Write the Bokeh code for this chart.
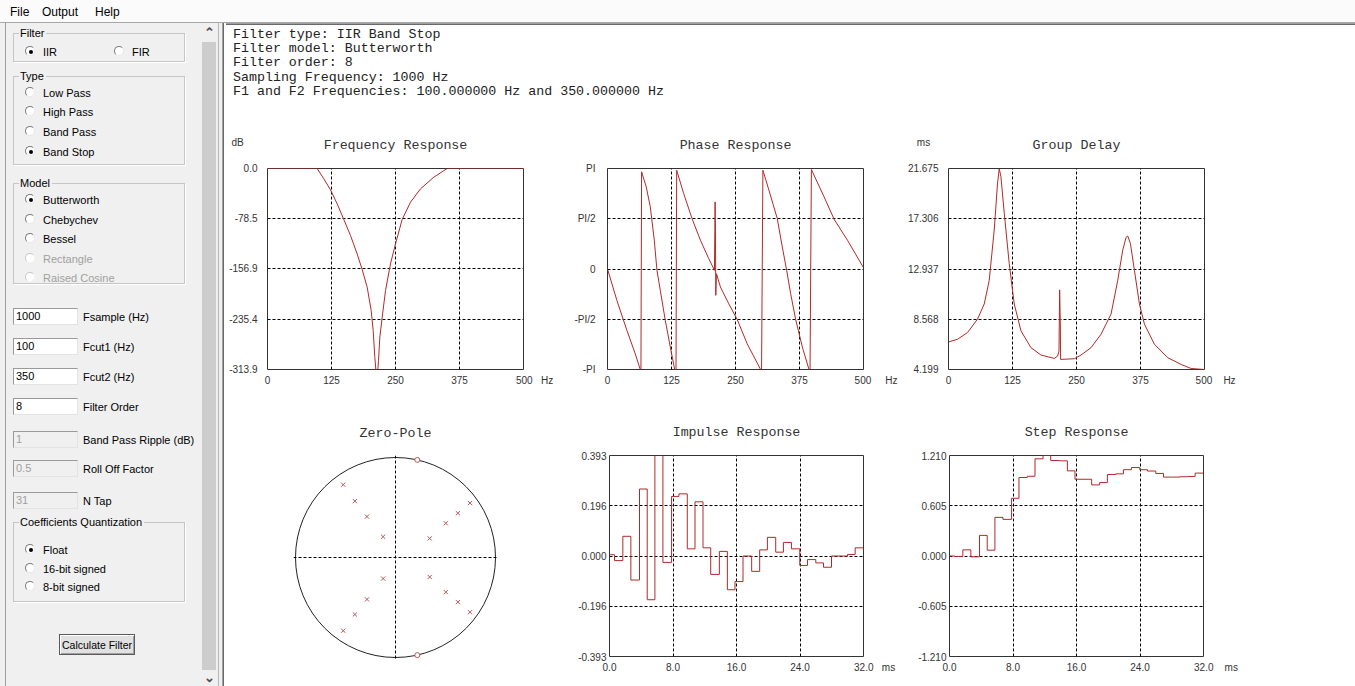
import numpy as np
from bokeh.plotting import figure
from bokeh.models import Range1d, FixedTicker, Span, Div
from bokeh.layouts import row, column
from bokeh.embed import file_html
from bokeh.resources import INLINE

# ---------------- data ----------------
freq_hz = [0, 97.0, 110.0, 123.0, 136.1, 149.1, 162.1, 175.1, 184.9, 194.7,
           202.5, 206.4, 209.6, 211.6, 213.0, 215.5, 216.8, 219.4, 224.0, 230.5,
           240.2, 250.0, 263.0, 279.3, 298.8, 324.9, 350.9, 500.0]
freq_db = [0.0, 0.0, -16.1, -33.3, -55.2, -79.7, -104.6, -133.3, -157.7, -185.3,
           -221.8, -253.0, -294.7, -313.9, -330.0, -313.9, -299.9, -263.4, -232.2, -190.5,
           -148.9, -117.7, -79.7, -52.6, -31.8, -13.5, 0.0, 0.0]
freq_xticks = [0, 125, 250, 375, 500]
freq_yticks = [-313.9, -235.4, -156.9, -78.5, 0.0]
freq_ylabels = ["-313.9", "-235.4", "-156.9", "-78.5", "0.0"]

phase_hz = [0, 18.3, 37.9, 54.2, 64.0, 65.3, 66.6, 75.7, 83.6, 91.4, 96.6, 103.1,
            112.9, 122.7, 131.2, 133.8, 135.1, 148.8, 165.1, 181.5, 197.8, 208.9,
            210.2, 210.8, 211.5, 212.8, 220.6, 236.9, 253.3, 272.8, 299.0, 300.9,
            303.5, 315.3, 331.6, 341.4, 349.9, 357.7, 367.5, 380.6, 393.6, 395.6,
            398.2, 423.0, 442.6, 468.7, 500.0]
phase_pi = [0.0, -0.312, -0.611, -0.844, -1.0, -1.0, 0.967, 0.817, 0.618, 0.286, -0.013, -0.213,
            -0.512, -0.777, -1.0, -1.0, 0.983, 0.751, 0.502, 0.286, 0.103, -0.013,
            0.668, 0.385, -0.262, -0.047, -0.179, -0.346, -0.502, -0.744, -1.0, -1.0,
            0.983, 0.784, 0.502, 0.219, -0.013, -0.246, -0.502, -0.777, -1.0, -1.0,
            0.990, 0.718, 0.495, 0.286, 0.013]
phase_yticks = [-1.0, -0.5, 0.0, 0.5, 1.0]
phase_ylabels = ["-PI", "-PI/2", "0", "PI/2", "PI"]

gd_hz = [0, 17.6, 37.2, 56.7, 69.8, 79.5, 89.3, 95.8, 99.1, 102.3,
         108.9, 118.6, 128.4, 141.5, 161.0, 180.6, 206.6, 213.2, 215.8, 217.1,
         218.4, 219.0, 245.8, 258.8, 278.4, 297.9, 317.5, 330.5, 340.3, 346.8,
         350.1, 355.3, 363.1, 372.9, 382.7, 402.2, 428.3, 454.4, 473.9, 500.0]
gd_ms = [6.595, 6.829, 7.414, 8.583, 9.898, 11.943, 16.327, 20.418, 21.646, 21.003,
         17.788, 13.405, 9.898, 7.560, 6.099, 5.456, 5.163, 5.368, 5.806, 11.125,
         8.144, 5.076, 5.134, 5.456, 6.099, 7.268, 9.021, 11.943, 14.574, 15.684,
         15.801, 15.158, 12.820, 9.898, 8.144, 6.391, 5.222, 4.637, 4.287, 4.199]
gd_yticks = [4.199, 8.568, 12.937, 17.306, 21.675]
gd_ylabels = ["4.199", "8.568", "12.937", "17.306", "21.675"]

zero_re = [0.218, 0.218]
zero_im = [0.976, -0.976]
pole_re = [-0.523, -0.406, -0.285, -0.124, 0.342, 0.503, 0.624, 0.745,
           -0.523, -0.406, -0.285, -0.124, 0.342, 0.503, 0.624, 0.745]
pole_im = [0.728, 0.564, 0.409, 0.208, 0.191, 0.342, 0.443, 0.544,
           -0.732, -0.570, -0.419, -0.211, -0.195, -0.346, -0.446, -0.547]
unit_radius = 1.0

t_ms = [0.0, 0.63, 1.68, 2.69, 3.78, 4.75, 5.72, 6.73, 7.82, 8.75, 9.80, 10.77,
        11.78, 12.75, 13.84, 14.85, 15.81, 16.82, 17.91, 18.92, 19.89, 20.94,
        21.91, 22.92, 23.97, 24.94, 25.99, 26.96, 27.97, 28.98, 29.99, 30.95]
t_end = 32.0
impulse = [0.005, -0.018, 0.077, -0.094, 0.262, -0.171, 0.410, -0.025, 0.233, 0.243,
           0.028, 0.212, 0.032, -0.072, 0.018, -0.132, -0.100, 0.0, -0.060, 0.024,
           0.073, 0.015, 0.053, 0.028, -0.037, -0.014, -0.027, -0.044, 0.0, 0.0,
           0.006, 0.032]
step = [0.0, -0.005, 0.074, -0.010, 0.248, 0.070, 0.465, 0.441, 0.695, 0.945,
        0.960, 1.170, 1.210, 1.150, 1.146, 1.025, 0.924, 0.924, 0.856, 0.884,
        0.981, 0.989, 1.039, 1.065, 1.039, 1.023, 0.994, 0.950, 0.950, 0.954,
        0.958, 0.998]
time_ticks = [0, 8, 16, 24, 32]
time_labels = ["0.0", "8.0", "16.0", "24.0", "32.0"]
imp_yticks = [-0.393, -0.196, 0.0, 0.196, 0.393]
imp_ylabels = ["-0.393", "-0.196", "0.000", "0.196", "0.393"]
step_yticks = [-1.21, -0.605, 0.0, 0.605, 1.21]
step_ylabels = ["-1.210", "-0.605", "0.000", "0.605", "1.210"]

header_lines = ["Filter type: IIR Band Stop",
                "Filter model: Butterworth",
                "Filter order: 8",
                "Sampling Frequency: 1000 Hz",
                "F1 and F2 Frequencies: 100.000000 Hz and 350.000000 Hz"]

# ---------------- styling ----------------
CURVE = "#b02a2a"
MARK = "#b05a5a"
TXT = "#333333"
MONO = "Liberation Mono"
SANS = "Liberation Sans"
NB = "\u00a0"


def with_unit_right(lbl, unit, pad_left, gap):
    # tick label of the last x tick, with the axis unit written to its right
    return NB * pad_left + lbl + NB * gap + unit


def with_unit_above(lbl, unit, pad):
    # tick label of the top y tick, with the axis unit written two lines above it
    return unit + NB * pad + "\n" + NB + "\n" + lbl + "\n" + NB + "\n" + NB


def make_fig(xr, yr, fw, fh, left, right, top, bottom, title, standoff):
    p = figure(x_range=Range1d(*xr), y_range=Range1d(*yr), frame_width=fw, frame_height=fh,
               min_border_left=left, min_border_right=right, min_border_top=top,
               min_border_bottom=bottom, output_backend="svg", toolbar_location=None,
               background_fill_color="white", border_fill_color="white", title=title)
    p.outline_line_color = "#333333"
    p.outline_line_width = 1
    style_title(p, standoff)
    return p


def style_title(p, standoff):
    p.title.align = "center"
    p.title.text_font = MONO
    p.title.text_font_size = "13.3px"
    p.title.text_font_style = "normal"
    p.title.text_color = TXT
    p.title.standoff = standoff


def style_axes(p, xticks, xlabels, yticks, ylabels, ystand, xgrid, ygrid):
    for ax in (p.xaxis[0], p.yaxis[0]):
        ax.axis_line_color = None
        ax.major_tick_line_color = None
        ax.minor_tick_line_color = None
        ax.major_tick_out = 0
        ax.major_tick_in = 0
        ax.major_label_text_font = SANS
        ax.major_label_text_font_size = "10px"
        ax.major_label_text_color = TXT
    p.xaxis[0].ticker = FixedTicker(ticks=xticks)
    p.xaxis[0].major_label_overrides = {t: l for t, l in zip(xticks, xlabels)}
    p.xaxis[0].major_label_standoff = 5
    p.yaxis[0].ticker = FixedTicker(ticks=yticks)
    p.yaxis[0].major_label_overrides = {t: l for t, l in zip(yticks, ylabels)}
    p.yaxis[0].major_label_standoff = ystand
    p.xgrid[0].ticker = FixedTicker(ticks=xgrid)
    p.ygrid[0].ticker = FixedTicker(ticks=ygrid)
    for g in (p.xgrid[0], p.ygrid[0]):
        g.grid_line_color = "black"
        g.grid_line_dash = "3 2"
        g.grid_line_width = 1


hz_labels = [str(t) for t in freq_xticks]

# Frequency response
pA = make_fig((0, 500), (-313.9, 0.0), 256, 201, 41, 39, 48, 37, "Frequency Response", 31)
style_axes(pA, freq_xticks, hz_labels[:-1] + [with_unit_right(hz_labels[-1], "Hz", 8, 3)],
           freq_yticks, freq_ylabels[:-1] + [with_unit_above(freq_ylabels[-1], "dB", 5)], 10,
           freq_xticks[1:-1], freq_yticks[1:-1])
pA.line(freq_hz, freq_db, line_color=CURVE, line_width=1)

# Phase response
pB = make_fig((0, 500), (-1.0, 1.0), 256, 201, 45, 40, 48, 37, "Phase Response", 31)
style_axes(pB, freq_xticks, hz_labels[:-1] + [with_unit_right(hz_labels[-1], "Hz", 9, 5)],
           phase_yticks, phase_ylabels, 12, freq_xticks[1:-1], phase_yticks[1:-1])
pB.line(phase_hz, phase_pi, line_color=CURVE, line_width=1)

# Group delay
pC = make_fig((0, 500), (4.199, 21.675), 256, 201, 45, 151, 48, 37, "Group Delay", 31)
style_axes(pC, freq_xticks, hz_labels[:-1] + [with_unit_right(hz_labels[-1], "Hz", 8, 4)],
           gd_yticks, gd_ylabels[:-1] + [with_unit_above(gd_ylabels[-1], "ms", 3)], 10,
           freq_xticks[1:-1], gd_yticks[1:-1])
pC.line(gd_hz, gd_ms, line_color=CURVE, line_width=1)

# Zero-pole
pD = figure(x_range=Range1d(-1.02, 1.02), y_range=Range1d(-1.02, 1.02), frame_width=204,
            frame_height=204, min_border_left=67, min_border_right=65, min_border_top=48,
            min_border_bottom=28, x_axis_type=None, y_axis_type=None,
            output_backend="svg", toolbar_location=None, title="Zero-Pole")
style_title(pD, 30)
pD.outline_line_color = None
pD.grid.visible = False
pD.add_layout(Span(location=0, dimension="width", line_color="black", line_dash="3 2", line_width=1))
pD.add_layout(Span(location=0, dimension="height", line_color="black", line_dash="3 2", line_width=1))
pD.circle(x=[0.0], y=[0.0], radius=unit_radius, fill_color=None, line_color="#222222", line_width=1)
pD.scatter(pole_re, pole_im, marker="x", size=6, line_color=MARK, line_width=1)
pD.scatter(zero_re, zero_im, marker="circle", size=5, fill_color="white", line_color=MARK, line_width=1)

# Impulse response
pE = make_fig((0, 32), (-0.393, 0.393), 254, 201, 47, 40, 49, 30, "Impulse Response", 32)
style_axes(pE, time_ticks, time_labels[:-1] + [with_unit_right(time_labels[-1], "ms", 8, 3)],
           imp_yticks, imp_ylabels, 3, time_ticks[1:-1], imp_yticks[1:-1])
pE.step(t_ms + [t_end], impulse + [impulse[-1]], mode="after", line_color=CURVE, line_width=1)

# Step response
pF = make_fig((0, 32), (-1.21, 1.21), 254, 201, 46, 152, 49, 30, "Step Response", 32)
style_axes(pF, time_ticks, time_labels[:-1] + [with_unit_right(time_labels[-1], "ms", 9, 4)],
           step_yticks, step_ylabels, 3, time_ticks[1:-1], step_yticks[1:-1])
pF.step(t_ms + [t_end], step + [step[-1]], mode="after", line_color=CURVE, line_width=1)

# ---------------- window chrome (HTML) ----------------
def ab(left, top, w, h, style=""):
    return f'<div style="position:absolute;left:{left}px;top:{top}px;width:{w}px;height:{h}px;{style}"></div>'


def txt(left, top, s, style=""):
    return f'<div style="position:absolute;left:{left}px;top:{top}px;line-height:14px;white-space:nowrap;{style}">{s}</div>'


def radio(cx, cy, s, checked=False, disabled=False):
    col = "#a0a0a0" if disabled else "#000"
    bc = "#c8c8c8 #f4f4f4 #f4f4f4 #c8c8c8" if disabled else "#7a7a7a #e8e8e8 #e8e8e8 #7a7a7a"
    dot = ('<div style="position:absolute;left:3px;top:3px;width:4px;height:4px;'
           'border-radius:50%;background:#000"></div>') if checked else ""
    return (f'<div style="position:absolute;left:{cx-6}px;top:{cy-6}px;width:10px;height:10px;'
            f'border-radius:50%;background:#fff;border:1px solid;border-color:{bc};">{dot}</div>'
            + txt(cx + 12, cy - 7, s, f"color:{col}"))


def group(top, h, title):
    return (ab(13, top, 172, h, "border:1px solid #c6c6c6;box-shadow:1px 1px 0 #ffffff;")
            + txt(19, top - 7, title, "background:#f0f0f0;padding:0 2px 0 1px;color:#000"))


def tbox(top, val, lab, disabled=False):
    bg = "#f0f0f0" if disabled else "#ffffff"
    col = "#a0a0a0" if disabled else "#000"
    return (f'<div style="position:absolute;left:13px;top:{top}px;width:61px;height:15px;background:{bg};'
            f'border:1px solid;border-color:#9a9a9a #e3e3e3 #e3e3e3 #9a9a9a;color:{col};'
            f'line-height:15px;padding-left:2px;box-sizing:content-box">{val}</div>'
            + txt(83, top + 2, lab, "color:#000"))


left_html = ['<div style="position:relative;width:226px;height:663px;background:#f0f0f0;'
             f'font-family:\'{SANS}\',Arial;font-size:11px;overflow:hidden">']
left_html.append(ab(5, 0, 1, 663, "background:#a0a0a0"))
left_html.append(ab(202, 19, 14, 628, "background:#cdcdcd"))
left_html.append(txt(204, 3, "&#8963;", "font-size:13px;color:#505050;font-weight:bold"))
left_html.append(txt(204, 648, "&#8964;", "font-size:13px;color:#505050;font-weight:bold"))
left_html.append(ab(218, 0, 1, 663, "background:#b8b8b8"))
left_html.append(ab(222, 0, 1, 663, "background:#a0a0a0"))
left_html.append(ab(223, 0, 1, 663, "background:#696969"))
left_html.append(ab(224, 0, 2, 663, "background:#ffffff"))
left_html.append(group(10, 29, "Filter"))
left_html.append(radio(31, 29, "IIR", checked=True))
left_html.append(radio(120, 29, "FIR"))
left_html.append(group(53, 89, "Type"))
for i, (s, c) in enumerate([("Low Pass", False), ("High Pass", False), ("Band Pass", False), ("Band Stop", True)]):
    left_html.append(radio(31, [69.5, 89, 108.5, 129][i], s, checked=c))
left_html.append(group(160, 101, "Model"))
for i, (s, c, d) in enumerate([("Butterworth", True, False), ("Chebychev", False, False), ("Bessel", False, False),
                               ("Rectangle", False, True), ("Raised Cosine", False, True)]):
    left_html.append(radio(31, [177, 196.5, 216, 235.5, 255][i], s, checked=c, disabled=d))
for top, v, l, d in [(285, "1000", "Fsample (Hz)", False), (315, "100", "Fcut1 (Hz)", False),
                     (345, "350", "Fcut2 (Hz)", False), (375, "8", "Filter Order", False),
                     (408, "1", "Band Pass Ripple (dB)", True), (437, "0.5", "Roll Off Factor", True),
                     (469, "31", "N Tap", True)]:
    left_html.append(tbox(top, v, l, d))
left_html.append(group(499, 80, "Coefficients Quantization"))
for i, (s, c) in enumerate([("Float", True), ("16-bit signed", False), ("8-bit signed", False)]):
    left_html.append(radio(31, [527, 545.7, 564.3][i], s, checked=c))
left_html.append('<div style="position:absolute;left:59px;top:611px;width:76px;height:21px;'
                 'border:1px solid #5a5a5a;background:#e1e1e1;box-shadow:inset 1px 1px 0 #fff,inset -1px -1px 0 #a0a0a0;'
                 'text-align:center;line-height:21px;font-size:10.5px;color:#000;white-space:nowrap">Calculate Filter</div>')
left_html.append('</div>')

menu_html = ('<div style="position:relative;width:1355px;height:23px;background:#fbfbfb;'
             f'font-family:\'{SANS}\',Arial;font-size:12px;color:#000">'
             + txt(10, 5, "File") + txt(42, 5, "Output") + txt(95, 5, "Help")
             + ab(0, 22, 1355, 1, "background:#a8a8a8") + '</div>')

header_html = ('<div style="position:relative;width:1129px;height:97px;background:#fff">'
               + ab(0, 0, 1129, 1, "background:#a0a0a0") + ab(0, 1, 1129, 1, "background:#696969")
               + f'<pre style="position:absolute;left:7px;top:5px;margin:0;font-family:\'{MONO}\';'
               'font-size:13.3px;line-height:14.2px;color:#222">' + "\n".join(header_lines) + '</pre></div>')

menu = Div(text=menu_html, width=1355, height=23, margin=0)
left = Div(text="".join(left_html), width=226, height=663, margin=0)
header = Div(text=header_html, width=1129, height=97, margin=0)

for p in (pA, pB, pC, pD, pE, pF):
    p.margin = 0

right = column(header, row(pA, pB, pC, spacing=0), row(pD, pE, pF, spacing=0), spacing=0)
root = column(menu, row(left, right, spacing=0), spacing=0)

open("out.html", "w").write(file_html(root, INLINE))
